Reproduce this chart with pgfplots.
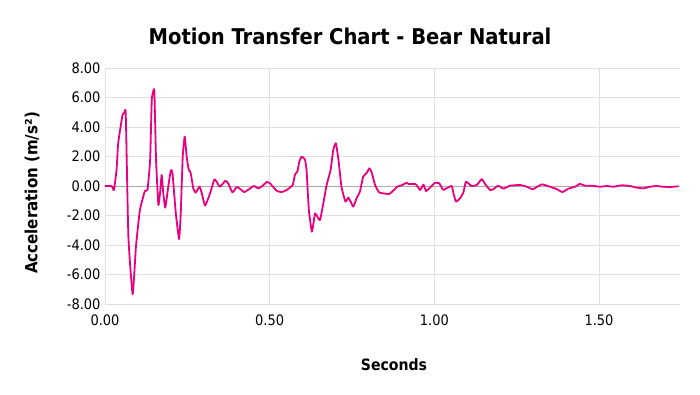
\documentclass[border=0pt]{standalone}
\usepackage{pgfplots}
\pgfplotsset{compat=1.18}
\usepackage{fontspec}
\setmainfont{DejaVu Sans}
\newfontfamily\condfont{DejaVu Sans Condensed}
\definecolor{lineMag}{RGB}{232,0,126}
\definecolor{gridG}{RGB}{224,224,224}
\definecolor{zeroG}{RGB}{170,170,170}
\begin{document}
\begin{tikzpicture}[x=1bp,y=1bp]
\path[use as bounding box] (0,0) rectangle (700,394);
\node[font=\condfont\bfseries\fontsize{21.8}{26}\selectfont] at (350,358) {Motion Transfer Chart - Bear Natural};
\node[font=\condfont\bfseries\fontsize{15.7}{18}\selectfont] at (394,29) {Seconds};
\node[font=\condfont\bfseries\fontsize{16.8}{20}\selectfont, rotate=90] at (32,201) {Acceleration (m/s²)};
\begin{axis}[
  at={(105bp,90bp)}, anchor=south west,
  scale only axis, width=575bp, height=236bp,
  xmin=0, xmax=1.746, ymin=-8, ymax=8,
  xtick={0,0.5,1,1.5}, ytick={-8,-6,-4,-2,0,2,4,6,8},
  xticklabels={0.00,0.50,1.00,1.50},
  yticklabels={-8.00,-6.00,-4.00,-2.00,0.00,2.00,4.00,6.00,8.00},
  tick label style={font=\condfont\fontsize{14.5}{17}\selectfont, text=black},
  xticklabel style={yshift=-7bp},
  yticklabel style={xshift=-1bp},
  major tick length=0pt,
  grid=major, major grid style={gridG, line width=0.8pt},
  axis line style={gridG, line width=0.8pt},
  axis x line*=bottom, axis y line*=left,
  clip=false,
]
\addplot[zeroG, line width=0.9pt, forget plot] coordinates {(0,0) (1.746,0)};
\addplot[lineMag, line width=1.8pt, smooth, tension=0.25, line join=round] coordinates {
(0,0) (0.02,0) (0.027,-0.27) (0.035,1.08) (0.040,2.9) (0.053,4.8) (0.058,4.93) (0.063,4.9) (0.071,-3.44) (0.084,-7.34) (0.094,-4.1) (0.106,-1.63) (0.121,-0.34) (0.129,-0.27) (0.137,1.76) (0.142,5.83) (0.147,6.46) (0.150,6.4) (0.155,1.76) (0.162,-1.29) (0.167,-0.5) (0.172,0.75) (0.177,-0.5) (0.183,-1.47) (0.192,-0.05) (0.200,1.08) (0.205,0.86) (0.215,-1.85) (0.225,-3.6) (0.230,-1.85) (0.236,1.99) (0.242,3.35) (0.248,1.99) (0.254,1.13) (0.26,0.9) (0.268,-0.16) (0.275,-0.45) (0.287,-0.05) (0.294,-0.5) (0.304,-1.33) (0.319,-0.5) (0.332,0.45) (0.339,0.29) (0.349,-0.05) (0.366,0.36) (0.375,0.14) (0.387,-0.43) (0.40,-0.07) (0.408,-0.16) (0.423,-0.41) (0.437,-0.22) (0.452,0) (0.466,-0.16) (0.478,0) (0.491,0.27) (0.501,0.18) (0.521,-0.32) (0.536,-0.41) (0.552,-0.27) (0.570,0.07) (0.577,0.79) (0.584,0.97) (0.590,1.65) (0.597,1.99) (0.607,1.81) (0.612,1.08) (0.619,-1.63) (0.628,-3.1) (0.633,-2.53) (0.638,-1.85) (0.645,-2.08) (0.653,-2.31) (0.663,-1.17) (0.673,0.07) (0.685,1.08) (0.693,2.44) (0.701,2.9) (0.709,1.76) (0.718,-0.05) (0.730,-1.06) (0.739,-0.79) (0.746,-1.06) (0.754,-1.4) (0.764,-0.83) (0.774,-0.38) (0.784,0.63) (0.795,0.9) (0.803,1.2) (0.810,0.9) (0.820,0.07) (0.832,-0.43) (0.845,-0.5) (0.863,-0.54) (0.875,-0.32) (0.887,-0.05) (0.901,0.05) (0.916,0.22) (0.921,0.14) (0.941,0.14) (0.948,0) (0.957,-0.27) (0.967,0.09) (0.975,-0.34) (0.992,0) (1.002,0.22) (1.015,0.18) (1.027,-0.27) (1.037,-0.16) (1.053,0) (1.058,-0.5) (1.066,-1.06) (1.078,-0.83) (1.088,-0.45) (1.096,0.29) (1.113,0) (1.129,0.07) (1.144,0.47) (1.154,0.14) (1.169,-0.27) (1.179,-0.22) (1.194,0.02) (1.210,-0.18) (1.230,0.02) (1.260,0.07) (1.281,-0.05) (1.299,-0.22) (1.326,0.11) (1.351,-0.05) (1.372,-0.22) (1.389,-0.41) (1.407,-0.18) (1.427,-0.05) (1.442,0.14) (1.458,0.02) (1.478,0.02) (1.503,-0.05) (1.524,0) (1.544,-0.05) (1.569,0.05) (1.594,0) (1.614,-0.11) (1.635,-0.16) (1.655,-0.05) (1.675,0) (1.695,-0.05) (1.715,-0.07) (1.741,-0.02)
};
\end{axis}
\end{tikzpicture}
\end{document}
